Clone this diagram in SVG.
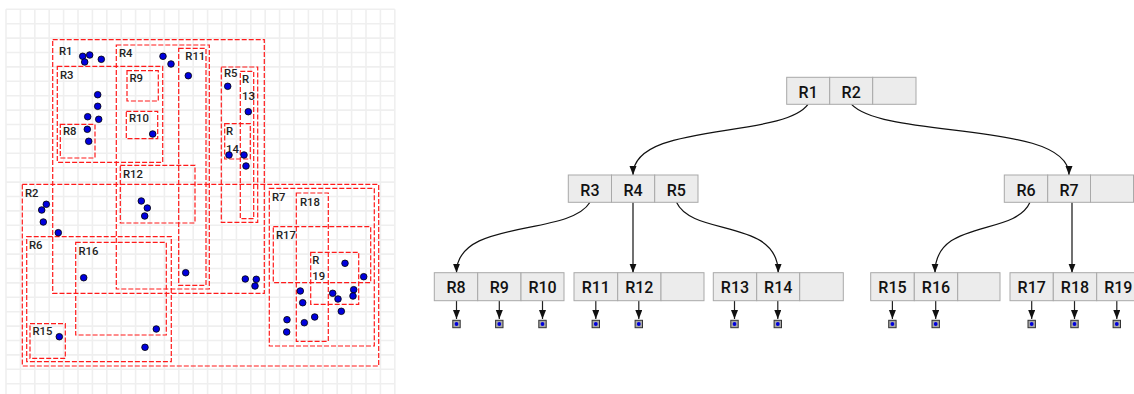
<svg xmlns="http://www.w3.org/2000/svg" width="1134" height="394" viewBox="0 0 1134 394">
<style>
.grid{fill:none;stroke:#efefef;stroke-width:1.6}
.mbr{fill:none;stroke:#ff1a1a;stroke-width:1.2;stroke-dasharray:5 2}
.lbl{font-family:Roboto,"Noto Sans",sans-serif;font-size:11.3px;font-weight:500;fill:#222}
.pt{fill:#0000dd;stroke:#000;stroke-width:0.8}
.cell{fill:#ececec;stroke:#a9a9a9;stroke-width:1}
.t{font-family:Roboto,"Noto Sans",sans-serif;font-size:16px;font-weight:500;fill:#111;text-anchor:middle}
.link{fill:none;stroke:#111;stroke-width:1.2}
.ptr{fill:none;stroke:#222;stroke-width:1.2}
.ico{fill:#a8a8a8;stroke:#333;stroke-width:1}
.dot{fill:#0000dd}
</style>
<defs>
<marker id="arr" markerUnits="userSpaceOnUse" markerWidth="10" markerHeight="8" refX="9" refY="3.5" orient="auto">
<path d="M0,0 L9,3.5 L0,7 z" fill="#111"/>
</marker>
</defs>
<rect width="1134" height="394" fill="#fff"/>
<g id="spatial">
<path class="grid" d="M6 9.3V394M20.4 9.3V394M34.8 9.3V394M49.2 9.3V394M63.6 9.3V394M78 9.3V394M92.4 9.3V394M106.8 9.3V394M121.2 9.3V394M135.6 9.3V394M150 9.3V394M164.4 9.3V394M178.8 9.3V394M193.2 9.3V394M207.6 9.3V394M222 9.3V394M236.4 9.3V394M250.8 9.3V394M265.2 9.3V394M279.6 9.3V394M294 9.3V394M308.4 9.3V394M322.8 9.3V394M337.2 9.3V394M351.6 9.3V394M366 9.3V394M380.4 9.3V394M394.8 9.3V394M6 9.3H394.8M6 23.7H394.8M6 38.1H394.8M6 52.5H394.8M6 66.9H394.8M6 81.3H394.8M6 95.7H394.8M6 110.1H394.8M6 124.5H394.8M6 138.9H394.8M6 153.3H394.8M6 167.7H394.8M6 182.1H394.8M6 196.5H394.8M6 210.9H394.8M6 225.3H394.8M6 239.7H394.8M6 254.1H394.8M6 268.5H394.8M6 282.9H394.8M6 297.3H394.8M6 311.7H394.8M6 326.1H394.8M6 340.5H394.8M6 354.9H394.8M6 369.3H394.8M6 383.7H394.8"/>
<g id="rects">
<rect id="mbr-R1" class="mbr" x="52.7" y="39.7" width="211.6" height="253.6"/>
<rect id="mbr-R4" class="mbr" x="116.3" y="45" width="93" height="244"/>
<rect id="mbr-R11" class="mbr" x="178.7" y="48.3" width="27.3" height="237"/>
<rect id="mbr-R3" class="mbr" x="57.3" y="66.3" width="105.4" height="96"/>
<rect id="mbr-R8" class="mbr" x="60.3" y="124.3" width="34.7" height="33.7"/>
<rect id="mbr-R9" class="mbr" x="127" y="70.7" width="31.3" height="30.3"/>
<rect id="mbr-R10" class="mbr" x="126.3" y="111.3" width="31.4" height="27.4"/>
<rect id="mbr-R12" class="mbr" x="120.3" y="165.3" width="74.7" height="57.7"/>
<rect id="mbr-R5" class="mbr" x="221.3" y="67" width="36.4" height="155.3"/>
<rect id="mbr-R13" class="mbr" x="240.3" y="71.3" width="13.4" height="147.4"/>
<rect id="mbr-R14" class="mbr" x="224.7" y="123.7" width="25.6" height="35.3"/>
<rect id="mbr-R2" class="mbr" x="22.3" y="184.3" width="356.4" height="181.7"/>
<rect id="mbr-R6" class="mbr" x="26.7" y="236.7" width="144.6" height="125"/>
<rect id="mbr-R16" class="mbr" x="75.7" y="242.3" width="90.6" height="92.7"/>
<rect id="mbr-R15" class="mbr" x="30" y="323.7" width="35.3" height="34.6"/>
<rect id="mbr-R7" class="mbr" x="269.3" y="188.3" width="105" height="157.7"/>
<rect id="mbr-R18" class="mbr" x="296.3" y="193" width="32" height="148.3"/>
<rect id="mbr-R17" class="mbr" x="273.3" y="226.7" width="97.4" height="56"/>
<rect id="mbr-R19" class="mbr" x="310.7" y="252.3" width="48" height="52"/>
</g>
<g id="labels">
<text class="lbl" x="59" y="55">R1</text>
<text class="lbl" x="119" y="56.7">R4</text>
<text class="lbl" x="185.3" y="60">R11</text>
<text class="lbl" x="60" y="79">R3</text>
<text class="lbl" x="129.5" y="81.7">R9</text>
<text class="lbl" x="129" y="122.3">R10</text>
<text class="lbl" x="63" y="135.3">R8</text>
<text class="lbl" x="123" y="177.7">R12</text>
<text class="lbl" x="224" y="77.3">R5</text>
<text class="lbl" x="242" y="82.7">R</text>
<text class="lbl" x="242" y="100">13</text>
<text class="lbl" x="226" y="135.3">R</text>
<text class="lbl" x="226" y="152.7">14</text>
<text class="lbl" x="25" y="196.7">R2</text>
<text class="lbl" x="29" y="249">R6</text>
<text class="lbl" x="78.5" y="255.3">R16</text>
<text class="lbl" x="32.5" y="335.3">R15</text>
<text class="lbl" x="272" y="201.3">R7</text>
<text class="lbl" x="300" y="205.7">R18</text>
<text class="lbl" x="276" y="239.3">R17</text>
<text class="lbl" x="312.3" y="264.3">R</text>
<text class="lbl" x="312.3" y="280">19</text>
</g>
<g id="points">
<circle class="pt" cx="82.7" cy="56.3" r="3.3"/>
<circle class="pt" cx="89.7" cy="55" r="3.3"/>
<circle class="pt" cx="84.7" cy="62" r="3.3"/>
<circle class="pt" cx="101.3" cy="59.3" r="3.3"/>
<circle class="pt" cx="163" cy="56.3" r="3.3"/>
<circle class="pt" cx="171" cy="64" r="3.3"/>
<circle class="pt" cx="188.3" cy="75.7" r="3.3"/>
<circle class="pt" cx="97.7" cy="94.7" r="3.3"/>
<circle class="pt" cx="97.7" cy="106.3" r="3.3"/>
<circle class="pt" cx="87.7" cy="116.7" r="3.3"/>
<circle class="pt" cx="98.7" cy="119.3" r="3.3"/>
<circle class="pt" cx="87.3" cy="129.3" r="3.3"/>
<circle class="pt" cx="88.7" cy="141.3" r="3.3"/>
<circle class="pt" cx="152.7" cy="134" r="3.3"/>
<circle class="pt" cx="227.7" cy="86.3" r="3.3"/>
<circle class="pt" cx="248.3" cy="111.7" r="3.3"/>
<circle class="pt" cx="229" cy="155" r="3.3"/>
<circle class="pt" cx="244" cy="155" r="3.3"/>
<circle class="pt" cx="246" cy="166" r="3.3"/>
<circle class="pt" cx="46.3" cy="204.3" r="3.3"/>
<circle class="pt" cx="41.7" cy="210" r="3.3"/>
<circle class="pt" cx="43.3" cy="222" r="3.3"/>
<circle class="pt" cx="58.3" cy="232.7" r="3.3"/>
<circle class="pt" cx="141.3" cy="201" r="3.3"/>
<circle class="pt" cx="147.3" cy="208" r="3.3"/>
<circle class="pt" cx="144.7" cy="216" r="3.3"/>
<circle class="pt" cx="83.7" cy="277.7" r="3.3"/>
<circle class="pt" cx="185.7" cy="272.7" r="3.3"/>
<circle class="pt" cx="156.3" cy="329" r="3.3"/>
<circle class="pt" cx="59.3" cy="336.7" r="3.3"/>
<circle class="pt" cx="145" cy="347.3" r="3.3"/>
<circle class="pt" cx="245.3" cy="279" r="3.3"/>
<circle class="pt" cx="256.3" cy="279.3" r="3.3"/>
<circle class="pt" cx="255" cy="286" r="3.3"/>
<circle class="pt" cx="345" cy="263.3" r="3.3"/>
<circle class="pt" cx="363.7" cy="276.7" r="3.3"/>
<circle class="pt" cx="300.3" cy="291" r="3.3"/>
<circle class="pt" cx="302.7" cy="302.7" r="3.3"/>
<circle class="pt" cx="332.7" cy="293.3" r="3.3"/>
<circle class="pt" cx="338" cy="299" r="3.3"/>
<circle class="pt" cx="353.7" cy="289.7" r="3.3"/>
<circle class="pt" cx="353" cy="296" r="3.3"/>
<circle class="pt" cx="341.3" cy="311.3" r="3.3"/>
<circle class="pt" cx="314.7" cy="317" r="3.3"/>
<circle class="pt" cx="287" cy="319.7" r="3.3"/>
<circle class="pt" cx="304.3" cy="322.7" r="3.3"/>
<circle class="pt" cx="286.7" cy="332" r="3.3"/>
</g>
</g>
<g id="connectors">
<path class="link" d="M808 104.3 C782 139.5 633 121 633 175" marker-end="url(#arr)"/>
<path class="link" d="M851.5 104.3 C886 140 1069 120 1069 175" marker-end="url(#arr)"/>
<path class="link" d="M590 202.3 C569 237 456.5 218 456.5 272.7" marker-end="url(#arr)"/>
<path class="link" d="M633 202.3 V272.7" marker-end="url(#arr)"/>
<path class="link" d="M676.5 202.3 C692.5 237 778.2 218 778.2 272.7" marker-end="url(#arr)"/>
<path class="link" d="M1030 202.3 C1014.8 237 935 218 935 272.7" marker-end="url(#arr)"/>
<path class="link" d="M1072 202.3 V272.7" marker-end="url(#arr)"/>
<g id="leaf-pointers">
<path class="ptr" d="M456.5 300.7V319" marker-end="url(#arr)"/>
<path class="ptr" d="M499.3 300.7V319" marker-end="url(#arr)"/>
<path class="ptr" d="M542.5 300.7V319" marker-end="url(#arr)"/>
<path class="ptr" d="M595.8 300.7V319" marker-end="url(#arr)"/>
<path class="ptr" d="M638.8 300.7V319" marker-end="url(#arr)"/>
<path class="ptr" d="M734.5 300.7V319" marker-end="url(#arr)"/>
<path class="ptr" d="M777.8 300.7V319" marker-end="url(#arr)"/>
<path class="ptr" d="M892.4 300.7V319" marker-end="url(#arr)"/>
<path class="ptr" d="M935.7 300.7V319" marker-end="url(#arr)"/>
<path class="ptr" d="M1031.7 300.7V319" marker-end="url(#arr)"/>
<path class="ptr" d="M1074.5 300.7V319" marker-end="url(#arr)"/>
<path class="ptr" d="M1116.8 300.7V319" marker-end="url(#arr)"/>
</g>
</g>
<g id="data-points">
<rect class="ico" x="452.8" y="320.3" width="7.4" height="7.4"/><circle class="dot" cx="456.5" cy="324" r="1.9"/>
<rect class="ico" x="495.6" y="320.3" width="7.4" height="7.4"/><circle class="dot" cx="499.3" cy="324" r="1.9"/>
<rect class="ico" x="538.8" y="320.3" width="7.4" height="7.4"/><circle class="dot" cx="542.5" cy="324" r="1.9"/>
<rect class="ico" x="592.1" y="320.3" width="7.4" height="7.4"/><circle class="dot" cx="595.8" cy="324" r="1.9"/>
<rect class="ico" x="635.1" y="320.3" width="7.4" height="7.4"/><circle class="dot" cx="638.8" cy="324" r="1.9"/>
<rect class="ico" x="730.8" y="320.3" width="7.4" height="7.4"/><circle class="dot" cx="734.5" cy="324" r="1.9"/>
<rect class="ico" x="774.1" y="320.3" width="7.4" height="7.4"/><circle class="dot" cx="777.8" cy="324" r="1.9"/>
<rect class="ico" x="888.7" y="320.3" width="7.4" height="7.4"/><circle class="dot" cx="892.4" cy="324" r="1.9"/>
<rect class="ico" x="932" y="320.3" width="7.4" height="7.4"/><circle class="dot" cx="935.7" cy="324" r="1.9"/>
<rect class="ico" x="1028" y="320.3" width="7.4" height="7.4"/><circle class="dot" cx="1031.7" cy="324" r="1.9"/>
<rect class="ico" x="1070.8" y="320.3" width="7.4" height="7.4"/><circle class="dot" cx="1074.5" cy="324" r="1.9"/>
<rect class="ico" x="1113.1" y="320.3" width="7.4" height="7.4"/><circle class="dot" cx="1116.8" cy="324" r="1.9"/>
</g>
<g id="node-root">
<rect class="cell" x="786.7" y="77.3" width="43" height="27"/>
<rect class="cell" x="829.7" y="77.3" width="43" height="27"/>
<rect class="cell" x="872.7" y="77.3" width="43.3" height="27"/>
<text class="t" x="808.2" y="97.5">R1</text>
<text class="t" x="851.2" y="97.5">R2</text>
</g>
<g id="node-R1">
<rect class="cell" x="568.3" y="175" width="43.2" height="27.3"/>
<rect class="cell" x="611.5" y="175" width="43.2" height="27.3"/>
<rect class="cell" x="654.7" y="175" width="43.3" height="27.3"/>
<text class="t" x="589.9" y="195.5">R3</text>
<text class="t" x="633.1" y="195.5">R4</text>
<text class="t" x="676.3" y="195.5">R5</text>
</g>
<g id="node-R2">
<rect class="cell" x="1004.3" y="175" width="43.4" height="27.3"/>
<rect class="cell" x="1047.7" y="175" width="42.8" height="27.3"/>
<rect class="cell" x="1090.5" y="175" width="43" height="27.3"/>
<text class="t" x="1026" y="195.5">R6</text>
<text class="t" x="1069.1" y="195.5">R7</text>
</g>
<g id="node-R3">
<rect class="cell" x="434.3" y="272.7" width="43.4" height="28"/>
<rect class="cell" x="477.7" y="272.7" width="43.3" height="28"/>
<rect class="cell" x="521" y="272.7" width="43" height="28"/>
<text class="t" x="456" y="293.2">R8</text>
<text class="t" x="499.3" y="293.2">R9</text>
<text class="t" x="542.6" y="293.2">R10</text>
</g>
<g id="node-R4">
<rect class="cell" x="574" y="272.7" width="43.7" height="28"/>
<rect class="cell" x="617.7" y="272.7" width="43.3" height="28"/>
<rect class="cell" x="661" y="272.7" width="43" height="28"/>
<text class="t" x="595.8" y="293.2">R11</text>
<text class="t" x="639.3" y="293.2">R12</text>
</g>
<g id="node-R5">
<rect class="cell" x="713.3" y="272.7" width="43.4" height="28"/>
<rect class="cell" x="756.7" y="272.7" width="43" height="28"/>
<rect class="cell" x="799.7" y="272.7" width="43.6" height="28"/>
<text class="t" x="735" y="293.2">R13</text>
<text class="t" x="778.2" y="293.2">R14</text>
</g>
<g id="node-R6">
<rect class="cell" x="870.7" y="272.7" width="43.6" height="28"/>
<rect class="cell" x="914.3" y="272.7" width="43.4" height="28"/>
<rect class="cell" x="957.7" y="272.7" width="42.3" height="28"/>
<text class="t" x="892.5" y="293.2">R15</text>
<text class="t" x="936" y="293.2">R16</text>
</g>
<g id="node-R7">
<rect class="cell" x="1010" y="272.7" width="43.3" height="28"/>
<rect class="cell" x="1053.3" y="272.7" width="43.4" height="28"/>
<rect class="cell" x="1096.7" y="272.7" width="43.3" height="28"/>
<text class="t" x="1031.7" y="293.2">R17</text>
<text class="t" x="1075" y="293.2">R18</text>
<text class="t" x="1118.3" y="293.2">R19</text>
</g>
</svg>
